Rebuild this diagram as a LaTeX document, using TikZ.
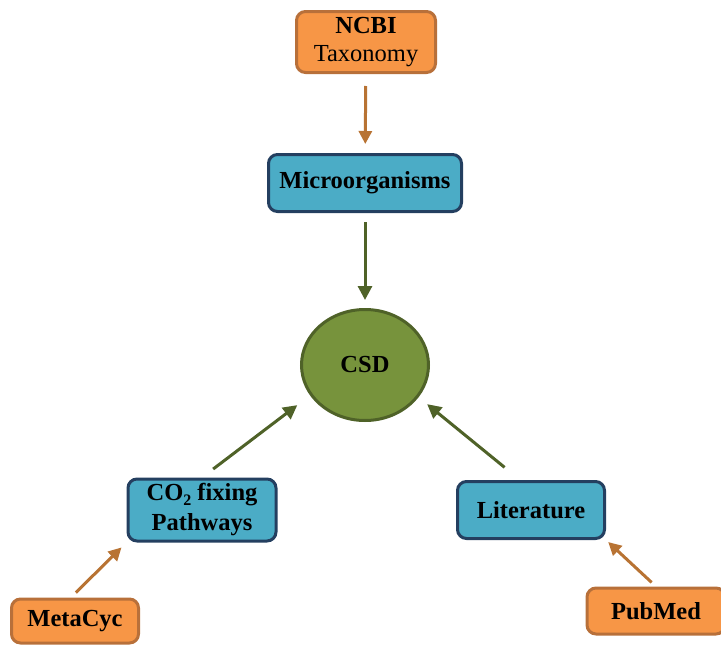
\documentclass[tikz,border=0pt]{standalone}
\usepackage{fontspec}
\setmainfont{Liberation Serif}
\usetikzlibrary{arrows.meta,shapes.geometric}
\definecolor{boxorange}{HTML}{F79646}
\definecolor{orangeline}{HTML}{B8703A}
\definecolor{boxblue}{HTML}{4BACC6}
\definecolor{blueline}{HTML}{243F60}
\definecolor{csdgreen}{HTML}{77933C}
\definecolor{greenline}{HTML}{4F6228}
\definecolor{brownarrow}{HTML}{B87333}
\begin{document}
\begin{tikzpicture}[x=1pt,y=-1pt,
	srcbox/.style={draw=orangeline,fill=boxorange,line width=3pt,rounded corners=9pt,align=center,font=\fontsize{24.5}{28}\selectfont},
	databox/.style={draw=blueline,fill=boxblue,line width=3pt,rounded corners=9pt,align=center,font=\bfseries\fontsize{24.5}{28}\selectfont},
	feed/.style={draw=brownarrow,line width=3pt,-{Triangle[length=13pt,width=13pt]}},
	link/.style={draw=greenline,line width=3pt,-{Triangle[length=14pt,width=14pt]}}]
	\useasboundingbox (0,0) rectangle (721,645);
	%sources%
	\node[srcbox,minimum width=139,minimum height=61] (ncbi) at (366,42) {\textbf{NCBI}\\Taxonomy};
	\node[srcbox,font=\bfseries\fontsize{24.5}{28}\selectfont,minimum width=127,minimum height=44] (metacyc) at (75,621) {MetaCyc};
	\node[srcbox,font=\bfseries\fontsize{24.5}{28}\selectfont,minimum width=138,minimum height=46] (pubmed) at (656,611) {PubMed};
	%data%
	\node[databox,minimum width=193,minimum height=57] (micro) at (365,183) {Microorganisms};
	\node[databox,font=\bfseries\fontsize{24.5}{30}\selectfont,minimum width=148,minimum height=62] (co2) at (202,510) {CO\raisebox{-5pt}{\fontsize{16}{16}\selectfont 2} fixing\\Pathways};
	\node[databox,minimum width=147,minimum height=57] (lit) at (531,510) {Literature};
	\node[ellipse,draw=greenline,fill=csdgreen,line width=3pt,minimum width=127,minimum height=111,font=\bfseries\fontsize{24.5}{28}\selectfont] (csd) at (365,365) {CSD};
	%arrows%
	\draw[feed,shorten <=12pt,shorten >=9pt] (ncbi) -- (micro);
	\draw[link,shorten <=9pt,shorten >=8pt] (micro) -- (csd);
	\draw[link,shorten <=14pt,shorten >=16pt] (co2.north) -- (csd.209);
	\draw[link,shorten <=20pt,shorten >=11pt] (lit.110) -- (csd.329);
	\draw[feed,shorten <=7pt,shorten >=7pt] (metacyc.100) -- (co2.south west);
	\draw[feed,shorten <=6pt,shorten >=3pt] (pubmed.north) -- (lit.south east);
\end{tikzpicture}
\end{document}
